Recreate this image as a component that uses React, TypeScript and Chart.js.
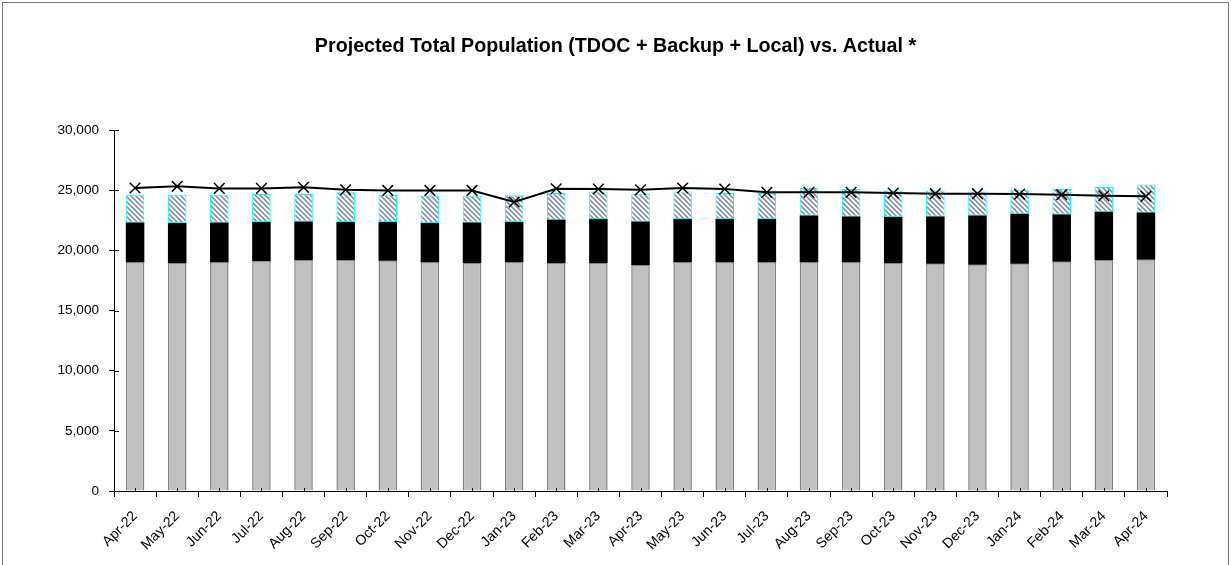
import React, { useEffect, useRef } from "react";
import { Chart, registerables } from "chart.js";

Chart.register(...registerables);

const categories = [
  "Apr-22", "May-22", "Jun-22", "Jul-22", "Aug-22", "Sep-22", "Oct-22", "Nov-22", "Dec-22",
  "Jan-23", "Feb-23", "Mar-23", "Apr-23", "May-23", "Jun-23", "Jul-23", "Aug-23", "Sep-23",
  "Oct-23", "Nov-23", "Dec-23", "Jan-24", "Feb-24", "Mar-24", "Apr-24",
];

const tdoc = [
  18990, 18940, 18990, 19080, 19160, 19160, 19130, 18990, 18940, 18990, 18940, 18940, 18780,
  18990, 18990, 18990, 18990, 18990, 18940, 18880, 18800, 18880, 19050, 19160, 19220,
];

const backup = [
  3330, 3330, 3330, 3270, 3240, 3190, 3220, 3280, 3380, 3360, 3610, 3660, 3620,
  3610, 3610, 3610, 3910, 3830, 3830, 3940, 4100, 4160, 3940, 4050, 3930,
];

const local = [
  2310, 2360, 2310, 2330, 2280, 2470, 2280, 2270, 2220, 2220, 2220, 2300, 2310,
  2300, 2170, 2170, 2280, 2280, 2210, 2160, 2000, 2000, 2110, 2060, 2330,
];

const actual = [
  25180, 25320, 25150, 25150, 25240, 25040, 24980, 24980, 24980, 24020, 25120, 25100, 25040,
  25180, 25100, 24820, 24820, 24820, 24770, 24710, 24710, 24680, 24630, 24540, 24490,
];

const yTicks = [0, 5000, 10000, 15000, 20000, 25000, 30000];

const FONT = "'Liberation Sans', Arial, sans-serif";

function makeHatch(): CanvasPattern | string {
  const c = document.createElement("canvas");
  c.width = 5;
  c.height = 5;
  const g = c.getContext("2d");
  if (!g) return "#ccc";
  g.fillStyle = "#ffffff";
  g.fillRect(0, 0, 5, 5);
  g.strokeStyle = "#8593aa";
  g.lineWidth = 1.6;
  g.beginPath();
  g.moveTo(-1, -1);
  g.lineTo(6, 6);
  g.moveTo(-1, 4);
  g.lineTo(1, 6);
  g.moveTo(4, -1);
  g.lineTo(6, 1);
  g.stroke();
  return g.createPattern(c, "repeat") || "#ccc";
}

const innerTicks = {
  id: "innerTicks",
  afterDatasetsDraw(chart: any) {
    const { ctx } = chart;
    const x = chart.scales.x;
    const y = chart.scales.y;
    ctx.save();
    ctx.strokeStyle = "#000";
    ctx.lineWidth = 1;
    ctx.beginPath();
    yTicks.forEach((v) => {
      const py = Math.round(y.getPixelForValue(v)) + 0.5;
      ctx.moveTo(x.left, py);
      ctx.lineTo(x.left + 5, py);
    });
    categories.forEach((_c, i) => {
      const px = Math.round(x.getPixelForValue(i)) + 0.5;
      ctx.moveTo(px, y.bottom);
      ctx.lineTo(px, y.bottom - 3);
    });
    ctx.stroke();
    ctx.restore();
  },
};

export default function App() {
  const ref = useRef<HTMLCanvasElement | null>(null);

  useEffect(() => {
    if (!ref.current) return;
    const hatch = makeHatch();
    const chart = new Chart(ref.current, {
      type: "bar",
      data: {
        labels: categories,
        datasets: [
          {
            type: "line",
            label: "Actual",
            data: actual,
            stack: "line",
            order: 0,
            borderColor: "#000",
            borderWidth: 2,
            pointStyle: "crossRot",
            pointRadius: 7.5,
            pointBorderWidth: 1.5,
            pointBorderColor: "#000",
            pointBackgroundColor: "#000",
            fill: false,
            tension: 0,
          } as any,
          {
            label: "TDOC",
            data: tdoc,
            stack: "bars",
            order: 1,
            backgroundColor: "#c0c0c0",
            borderColor: "#808080",
            borderWidth: { left: 1.5, right: 1.5, top: 1, bottom: 0 },
            borderSkipped: false,
          },
          {
            label: "Backup",
            data: backup,
            stack: "bars",
            order: 1,
            backgroundColor: "#000000",
            borderWidth: 0,
          },
          {
            label: "Local",
            data: local,
            stack: "bars",
            order: 1,
            backgroundColor: hatch as any,
            borderColor: "#00ffff",
            borderWidth: 1,
            borderSkipped: false,
          },
        ],
      },
      options: {
        animation: false,
        responsive: false,
        devicePixelRatio: 1,
        layout: { padding: { left: 0, right: 0, top: 0, bottom: 0 } },
        datasets: {
          bar: { categoryPercentage: 1, barPercentage: 0.44 },
        },
        plugins: {
          legend: { display: false },
          tooltip: { enabled: false },
          title: {
            display: true,
            text: "Projected Total Population (TDOC + Backup + Local) vs. Actual *",
            color: "#000",
            font: { family: FONT, size: 19.7, weight: "bold", lineHeight: 1.2 },
            padding: { top: 34.5, bottom: 71.9 },
          },
        },
        scales: {
          x: {
            type: "category",
            offset: true,
            afterFit: (s: any) => {
              s.height = 74;
            },
            grid: {
              display: true,
              drawOnChartArea: false,
              drawTicks: true,
              tickLength: 6,
              color: "#000",
              offset: true,
            },
            border: { display: true, color: "#000", width: 1 },
            ticks: {
              autoSkip: false,
              maxRotation: 45,
              minRotation: 45,
              color: "#000",
              padding: 11,
              font: { family: FONT, size: 14.2 },
            },
          },
          y: {
            type: "linear",
            stacked: true,
            min: 0,
            max: 30000,
            afterFit: (s: any) => {
              s.width = 114;
            },
            afterBuildTicks: (s: any) => {
              s.ticks = yTicks.map((v) => ({ value: v }));
            },
            grid: {
              display: true,
              drawOnChartArea: false,
              drawTicks: true,
              tickLength: 5,
              color: "#000",
            },
            border: { display: true, color: "#000", width: 1 },
            ticks: {
              color: "#000",
              padding: 10,
              font: { family: FONT, size: 13.6 },
              callback: (v: any) => Number(v).toLocaleString("en-US"),
            },
          },
          y2: {
            type: "linear",
            position: "right",
            display: true,
            afterFit: (s: any) => {
              s.width = 64;
            },
            grid: { display: false, drawTicks: false },
            border: { display: false },
            ticks: { display: false },
          },
        },
      },
      plugins: [innerTicks],
    } as any);
    return () => chart.destroy();
  }, []);

  return (
    <div
      style={{
        position: "fixed",
        left: 0,
        top: 0,
        width: 1231,
        height: 565,
        overflow: "hidden",
        background: "#fff",
      }}
    >
      <canvas
        ref={ref}
        width={1231}
        height={565}
        style={{ position: "absolute", left: 0, top: 0, width: 1231, height: 565 }}
      />
      <div
        style={{
          position: "absolute",
          left: 2,
          top: 2,
          width: 1225,
          height: 700,
          border: "1px solid #7a7a7a",
          pointerEvents: "none",
        }}
      />
    </div>
  );
}
